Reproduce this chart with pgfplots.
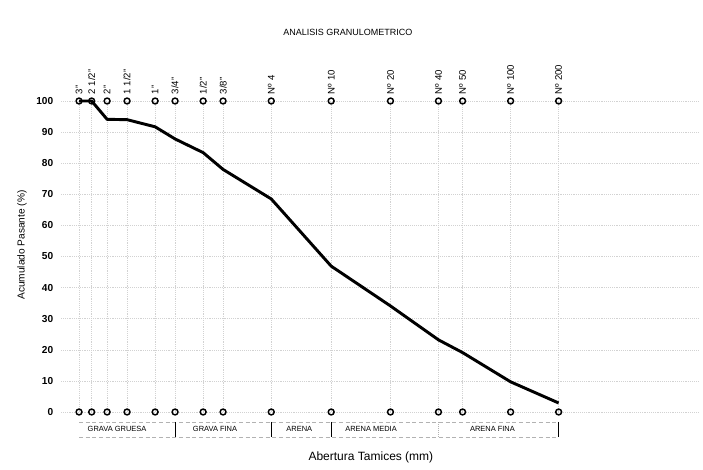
\documentclass[border=0pt]{standalone}
\usepackage{pgfplots}
\pgfplotsset{compat=1.18}
\usepackage{fontspec}
\setmainfont{Liberation Sans}

% granulometric curve: sieve opening (mm), percent passing
\pgfplotstableread{
d       p
76.2    100
63.5    100
50.8    94.1
38.1    94.0
25.4    91.7
19.05   87.8
12.7    83.4
9.525   78.0
4.75    68.5
2.0     46.9
0.85    34.1
0.425   23.2
0.3     19.1
0.15    9.7
0.075   2.9
}\curva

% sieve markers along the 0 and 100 rows
\pgfplotstableread{
d       top  bot
76.2    100  0
63.5    100  0
50.8    100  0
38.1    100  0
25.4    100  0
19.05   100  0
12.7    100  0
9.525   100  0
4.75    100  0
2.0     100  0
0.85    100  0
0.425   100  0
0.3     100  0
0.15    100  0
0.075   100  0
}\tamices

\begin{document}
\begin{tikzpicture}
\begin{axis}[
    at={(0,0)}, anchor=south west,
    scale only axis,
    width=478.5pt, height=233.25pt,
    xmode=log, x dir=reverse,
    xmin=0.01, xmax=100,
    ymin=0, ymax=100,
    clip=false,
    axis line style={draw=none},
    major tick length=0pt,
    ytick={0,10,...,100},
    yticklabel style={font=\fontsize{7.6}{8}\selectfont\bfseries, inner xsep=5pt},
    /pgf/number format/assume math mode=true,
    xtick={76.2,63.5,50.8,38.1,25.4,19.05,12.7,9.525,4.75,2.0,0.85,0.425,0.3,0.15,0.075},
    xticklabels={3",2 1/2",2",1 1/2",1",3/4",1/2",3/8",Nº 4,Nº 10,Nº 20,Nº 40,Nº 50,Nº 100,Nº 200},
    xticklabel pos=right,
    xticklabel style={rotate=90, anchor=west, inner xsep=7pt, xshift=-2pt,
        font=\fontsize{7.2}{8}\selectfont},
    grid=major,
    grid style={densely dotted, gray!35, line width=0.4pt},
    ylabel={Acumulado Pasante (\%)},
    ylabel style={at={(axis description cs:-0.06,0.537)}, anchor=center,
        font=\fontsize{7.6}{8}\selectfont},
]
\addplot[only marks, mark=o, mark size=2.2pt, line width=1.1pt, black]
    table[x=d, y=top] {\tamices};
\addplot[only marks, mark=o, mark size=2.2pt, line width=1.1pt, black]
    table[x=d, y=bot] {\tamices};
\addplot[black, line width=2.2pt, line join=round] table[x=d, y=p] {\curva};

% zone bar under the chart
\draw[gray!60, densely dashed, line width=0.4pt]
    (axis cs:76.2,-3.2) -- (axis cs:0.075,-3.2)
    (axis cs:76.2,-8) -- (axis cs:0.075,-8);
\pgfplotsinvokeforeach{19.05,4.75,2.0,0.075}{
    \draw[black, line width=0.7pt] (axis cs:#1,-3.2) -- (axis cs:#1,-8);
}
\draw[gray!60, densely dotted, line width=0.5pt] (axis cs:0.425,-3.2) -- (axis cs:0.425,-8);
\begin{scope}[every node/.style={font=\fontsize{5.6}{6}\selectfont}]
\node at (axis cs:44,-5.6) {GRAVA GRUESA};
\node at (axis cs:10.7,-5.6) {GRAVA FINA};
\node at (axis cs:3.17,-5.6) {ARENA};
\node at (axis cs:1.125,-5.6) {ARENA MEDIA};
\node at (axis cs:0.195,-5.6) {ARENA FINA};
\end{scope}

\node[font=\fontsize{9}{10}\selectfont] at (axis description cs:0.487,-0.145)
    {Abertura Tamices (mm)};
\node[font=\fontsize{6.75}{8}\selectfont] at (axis description cs:0.451,1.222)
    {ANALISIS GRANULOMETRICO};
\end{axis}
\pgfresetboundingbox
\path (-45.15pt,-43.5pt) rectangle (482.1pt,309pt);
\end{tikzpicture}
\end{document}
